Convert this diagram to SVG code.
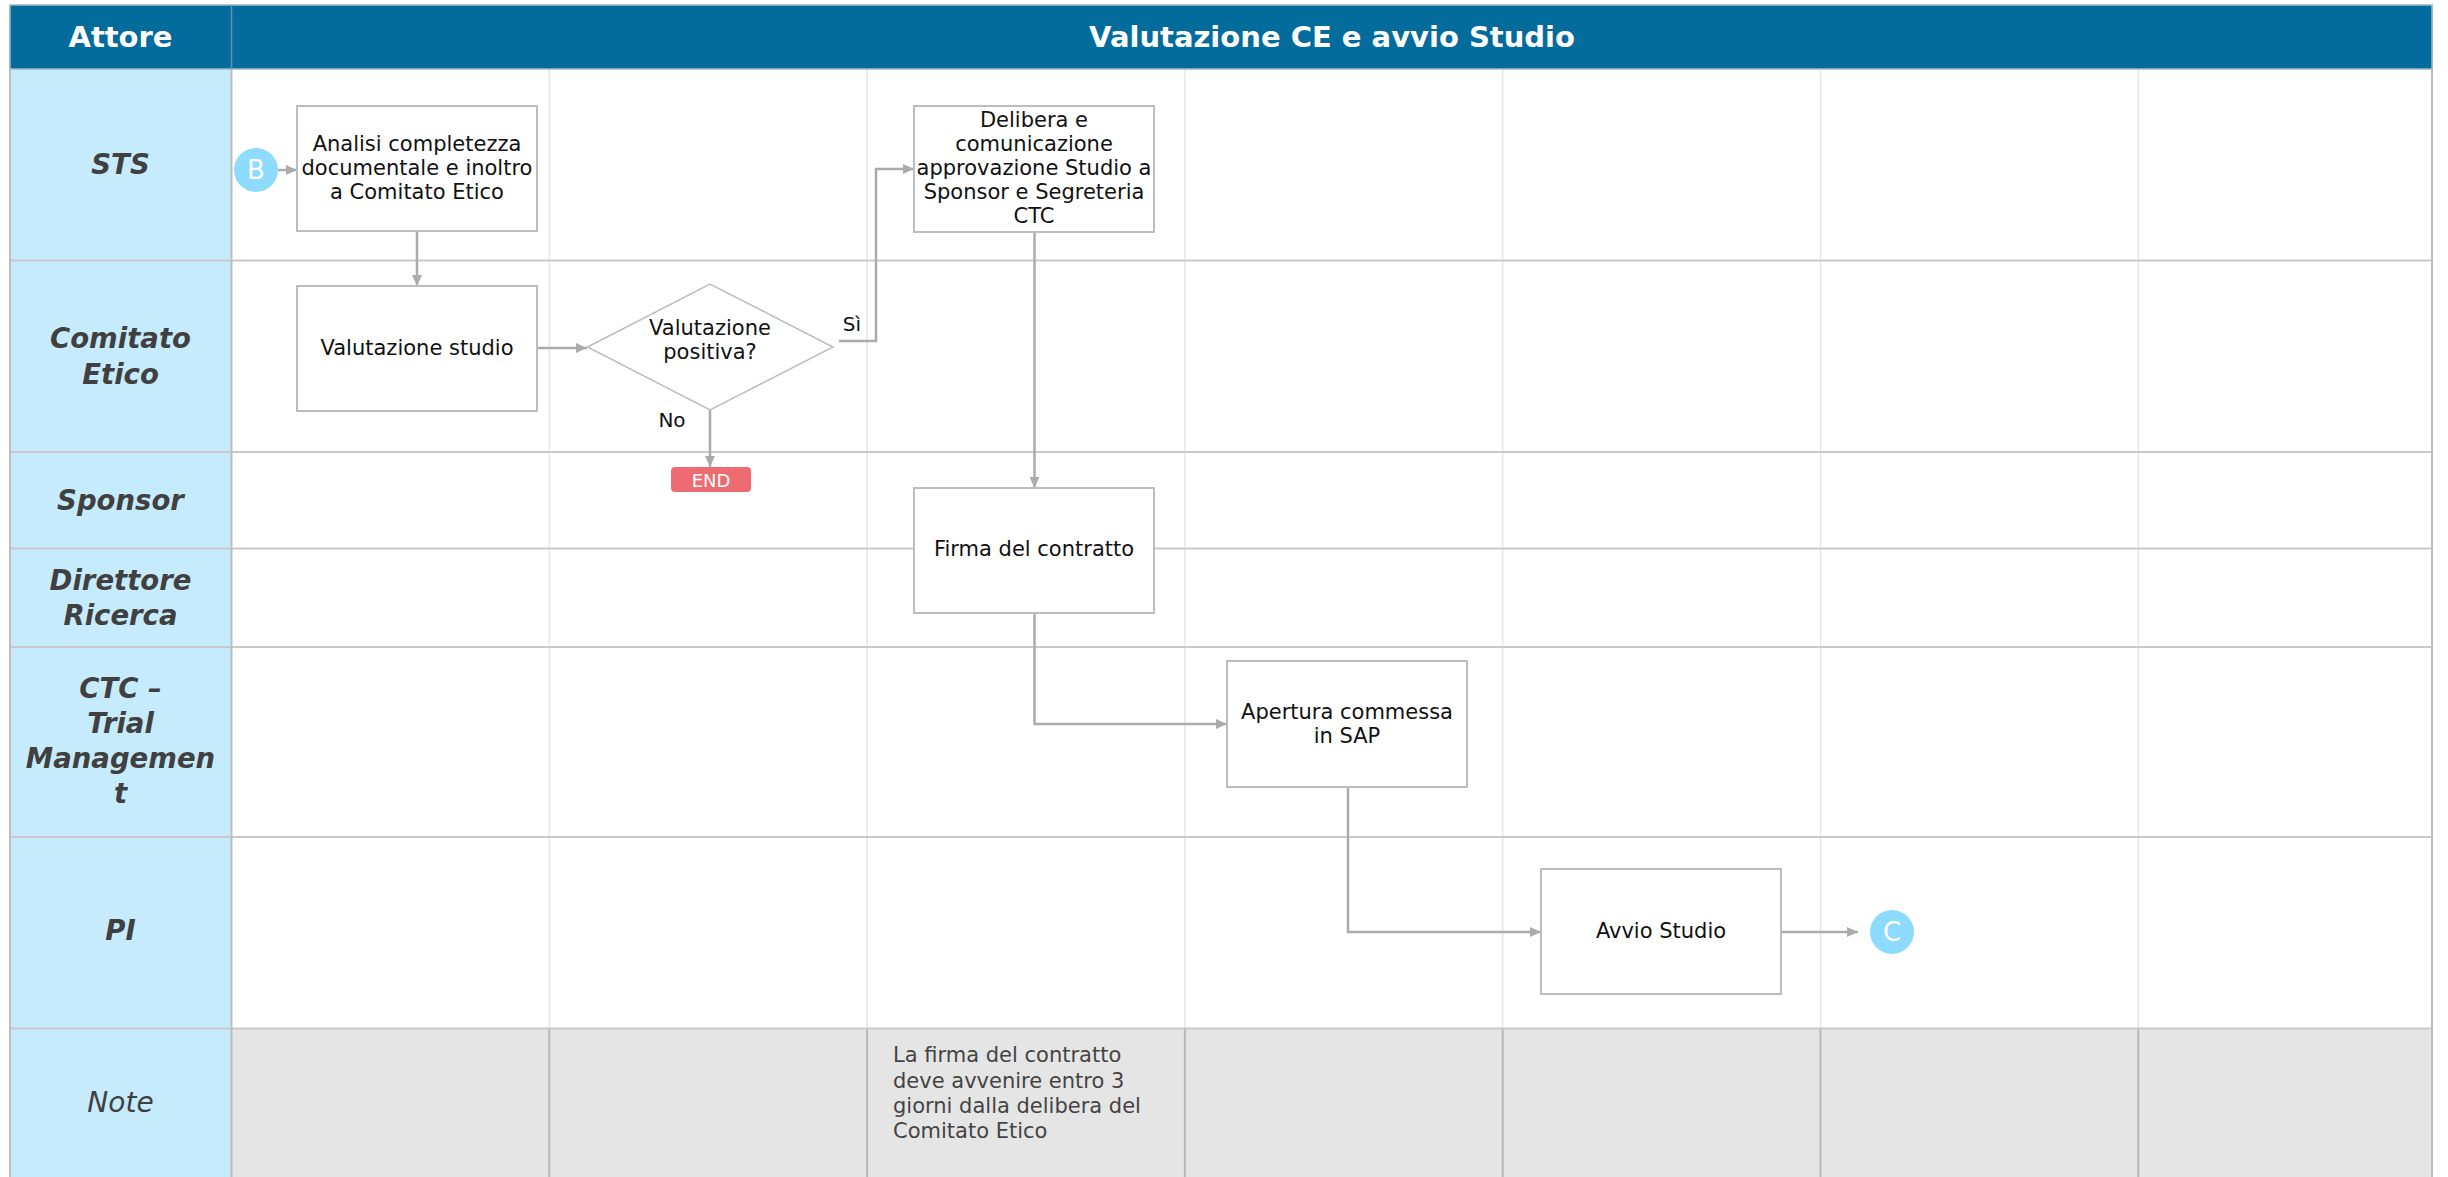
<svg xmlns="http://www.w3.org/2000/svg" width="2448" height="1177" viewBox="0 0 2448 1177">
  <style>
    .hdr { fill: #036C9C; }
    .hdr-text { font-family: "DejaVu Sans", sans-serif; font-weight: bold; fill: #ffffff; text-anchor: middle; dominant-baseline: central; }
    .lane-bg { fill: #C5EBFC; }
    .note-bg { fill: #E5E5E5; }
    .row-line { stroke: #C9C9C9; stroke-width: 2; fill: none; }
    .col-line { stroke: #E6E6E6; stroke-width: 1.5; fill: none; }
    .col-line-note { stroke: #B8B8B8; stroke-width: 2; fill: none; }
    .border { stroke: #BDBDBD; stroke-width: 2; fill: none; }
    .lane-label { font-family: "DejaVu Sans", sans-serif; font-weight: bold; font-style: italic; font-size: 27.5px; fill: #404040; text-anchor: middle; dominant-baseline: central; }
    .note-label { font-family: "DejaVu Sans", sans-serif; font-style: italic; font-size: 28px; fill: #404040; text-anchor: middle; dominant-baseline: central; }
    .box { fill: #ffffff; stroke: #BDBDBD; stroke-width: 2; }
    .diamond { fill: #ffffff; stroke: #BDBDBD; stroke-width: 1.5; }
    .box-text { font-family: "DejaVu Sans", sans-serif; font-size: 21px; fill: #111111; text-anchor: middle; dominant-baseline: central; }
    .note-text { font-family: "DejaVu Sans", sans-serif; font-size: 21px; fill: #444444; dominant-baseline: central; }
    .edge-label { font-family: "DejaVu Sans", sans-serif; font-size: 20px; fill: #111111; text-anchor: middle; dominant-baseline: central; }
    .conn { stroke: #ABABAB; stroke-width: 2.5; fill: none; marker-end: url(#arrow); }
    .ref { fill: #8DDBFF; }
    .ref-text { font-family: "DejaVu Sans", sans-serif; font-size: 26px; fill: #ffffff; text-anchor: middle; dominant-baseline: central; }
    .end { fill: #EE6B72; }
    .end-text { font-family: "DejaVu Sans", sans-serif; font-size: 18px; fill: #ffffff; text-anchor: middle; dominant-baseline: central; }
  </style>
  <defs>
    <marker id="arrow" markerUnits="userSpaceOnUse" markerWidth="11" markerHeight="10" refX="11" refY="5" orient="auto">
      <path d="M0,0 L11,5 L0,10 z" fill="#ABABAB"/>
    </marker>
  </defs>

  <rect x="0" y="0" width="2448" height="1177" fill="#ffffff"/>

  <!-- swimlane grid -->
  <g id="grid">
    <rect class="lane-bg" x="10" y="69" width="221.5" height="1108"/>
    <rect class="note-bg" x="231.5" y="1028" width="2200.5" height="149"/>
    <!-- column separators -->
    <g class="col-line">
      <line x1="549.3" y1="69" x2="549.3" y2="1028"/>
      <line x1="867.1" y1="69" x2="867.1" y2="1028"/>
      <line x1="1184.9" y1="69" x2="1184.9" y2="1028"/>
      <line x1="1502.7" y1="69" x2="1502.7" y2="1028"/>
      <line x1="1820.5" y1="69" x2="1820.5" y2="1028"/>
      <line x1="2138.3" y1="69" x2="2138.3" y2="1028"/>
    </g>
    <g class="col-line-note">
      <line x1="549.3" y1="1028" x2="549.3" y2="1177"/>
      <line x1="867.1" y1="1028" x2="867.1" y2="1177"/>
      <line x1="1184.9" y1="1028" x2="1184.9" y2="1177"/>
      <line x1="1502.7" y1="1028" x2="1502.7" y2="1177"/>
      <line x1="1820.5" y1="1028" x2="1820.5" y2="1177"/>
      <line x1="2138.3" y1="1028" x2="2138.3" y2="1177"/>
    </g>
    <!-- row separators -->
    <g class="row-line">
      <line x1="10" y1="260.5" x2="2432" y2="260.5"/>
      <line x1="10" y1="452" x2="2432" y2="452"/>
      <line x1="10" y1="548.5" x2="2432" y2="548.5"/>
      <line x1="10" y1="647" x2="2432" y2="647"/>
      <line x1="10" y1="837" x2="2432" y2="837"/>
      <line x1="10" y1="1028.5" x2="2432" y2="1028.5"/>
    </g>
    <line class="border" x1="231.5" y1="69" x2="231.5" y2="1177"/>
    <line class="border" x1="10" y1="5" x2="10" y2="1177"/>
    <line class="border" x1="2432" y1="5" x2="2432" y2="1177"/>
  </g>

  <!-- header band -->
  <g id="header">
    <rect class="hdr" x="10" y="5" width="2422" height="64" stroke="#9FB7C6" stroke-width="1.5"/>
    <line x1="231.5" y1="5" x2="231.5" y2="69" stroke="#5F93B1" stroke-width="1.5"/>
    <text class="hdr-text" x="120.5" y="37" font-size="29px">Attore</text>
    <text class="hdr-text" x="1332" y="37" font-size="29px">Valutazione CE e avvio Studio</text>
  </g>

  <!-- actor labels -->
  <g id="lane-labels">
    <text class="lane-label" x="120.5" y="164">STS</text>
    <text class="lane-label" x="120.5" y="338">Comitato</text>
    <text class="lane-label" x="120.5" y="374">Etico</text>
    <text class="lane-label" x="120.5" y="500">Sponsor</text>
    <text class="lane-label" x="120.5" y="580">Direttore</text>
    <text class="lane-label" x="120.5" y="615">Ricerca</text>
    <text class="lane-label" x="120.5" y="688">CTC –</text>
    <text class="lane-label" x="120.5" y="723">Trial</text>
    <text class="lane-label" x="120.5" y="758">Managemen</text>
    <text class="lane-label" x="120.5" y="793">t</text>
    <text class="lane-label" x="120.5" y="930">PI</text>
    <text class="note-label" x="120.5" y="1102">Note</text>
  </g>

  <!-- connectors -->
  <g id="connectors">
    <path class="conn" d="M278,170 H297"/>
    <path class="conn" d="M417,231 V286"/>
    <path class="conn" d="M537,348 H587"/>
    <path class="conn" d="M839,341 H876 V169 H914"/>
    <path class="conn" d="M710,410 V467"/>
    <path class="conn" d="M1034.5,232 V488"/>
    <path class="conn" d="M1034.5,613 V724 H1227"/>
    <path class="conn" d="M1348,787 V932 H1541"/>
    <path class="conn" d="M1781,932 H1858"/>
    <text class="edge-label" x="852" y="324">Sì</text>
    <text class="edge-label" x="672" y="420">No</text>
  </g>

  <!-- nodes -->
  <g id="node-b">
    <circle class="ref" cx="256" cy="170" r="22"/>
    <text class="ref-text" x="256" y="170">B</text>
  </g>

  <g id="node-analisi">
    <rect class="box" x="297" y="106" width="240" height="125"/>
    <text class="box-text" x="417" y="144">Analisi completezza</text>
    <text class="box-text" x="417" y="168">documentale e inoltro</text>
    <text class="box-text" x="417" y="192">a Comitato Etico</text>
  </g>

  <g id="node-valutazione">
    <rect class="box" x="297" y="286" width="240" height="125"/>
    <text class="box-text" x="417" y="348">Valutazione studio</text>
  </g>

  <g id="node-decisione">
    <polygon class="diamond" points="587.5,347 710,284 833,347 710,410"/>
    <text class="box-text" x="710" y="328">Valutazione</text>
    <text class="box-text" x="710" y="352">positiva?</text>
  </g>

  <g id="node-end">
    <rect class="end" x="671" y="467" width="80" height="25" rx="4"/>
    <text class="end-text" x="711" y="480">END</text>
  </g>

  <g id="node-delibera">
    <rect class="box" x="914" y="106" width="240" height="126"/>
    <text class="box-text" x="1034" y="120">Delibera e</text>
    <text class="box-text" x="1034" y="144">comunicazione</text>
    <text class="box-text" x="1034" y="168">approvazione Studio a</text>
    <text class="box-text" x="1034" y="192">Sponsor e Segreteria</text>
    <text class="box-text" x="1034" y="216">CTC</text>
  </g>

  <g id="node-firma">
    <rect class="box" x="914" y="488" width="240" height="125"/>
    <text class="box-text" x="1034" y="549">Firma del contratto</text>
  </g>

  <g id="node-apertura">
    <rect class="box" x="1227" y="661" width="240" height="126"/>
    <text class="box-text" x="1347" y="712">Apertura commessa</text>
    <text class="box-text" x="1347" y="736">in SAP</text>
  </g>

  <g id="node-avvio">
    <rect class="box" x="1541" y="869" width="240" height="125"/>
    <text class="box-text" x="1661" y="931">Avvio Studio</text>
  </g>

  <g id="node-c">
    <circle class="ref" cx="1892" cy="932" r="22"/>
    <text class="ref-text" x="1892" y="932">C</text>
  </g>

  <g id="note-firma">
    <text class="note-text" x="893" y="1055">La firma del contratto</text>
    <text class="note-text" x="893" y="1081">deve avvenire entro 3</text>
    <text class="note-text" x="893" y="1106">giorni dalla delibera del</text>
    <text class="note-text" x="893" y="1131">Comitato Etico</text>
  </g>
</svg>
